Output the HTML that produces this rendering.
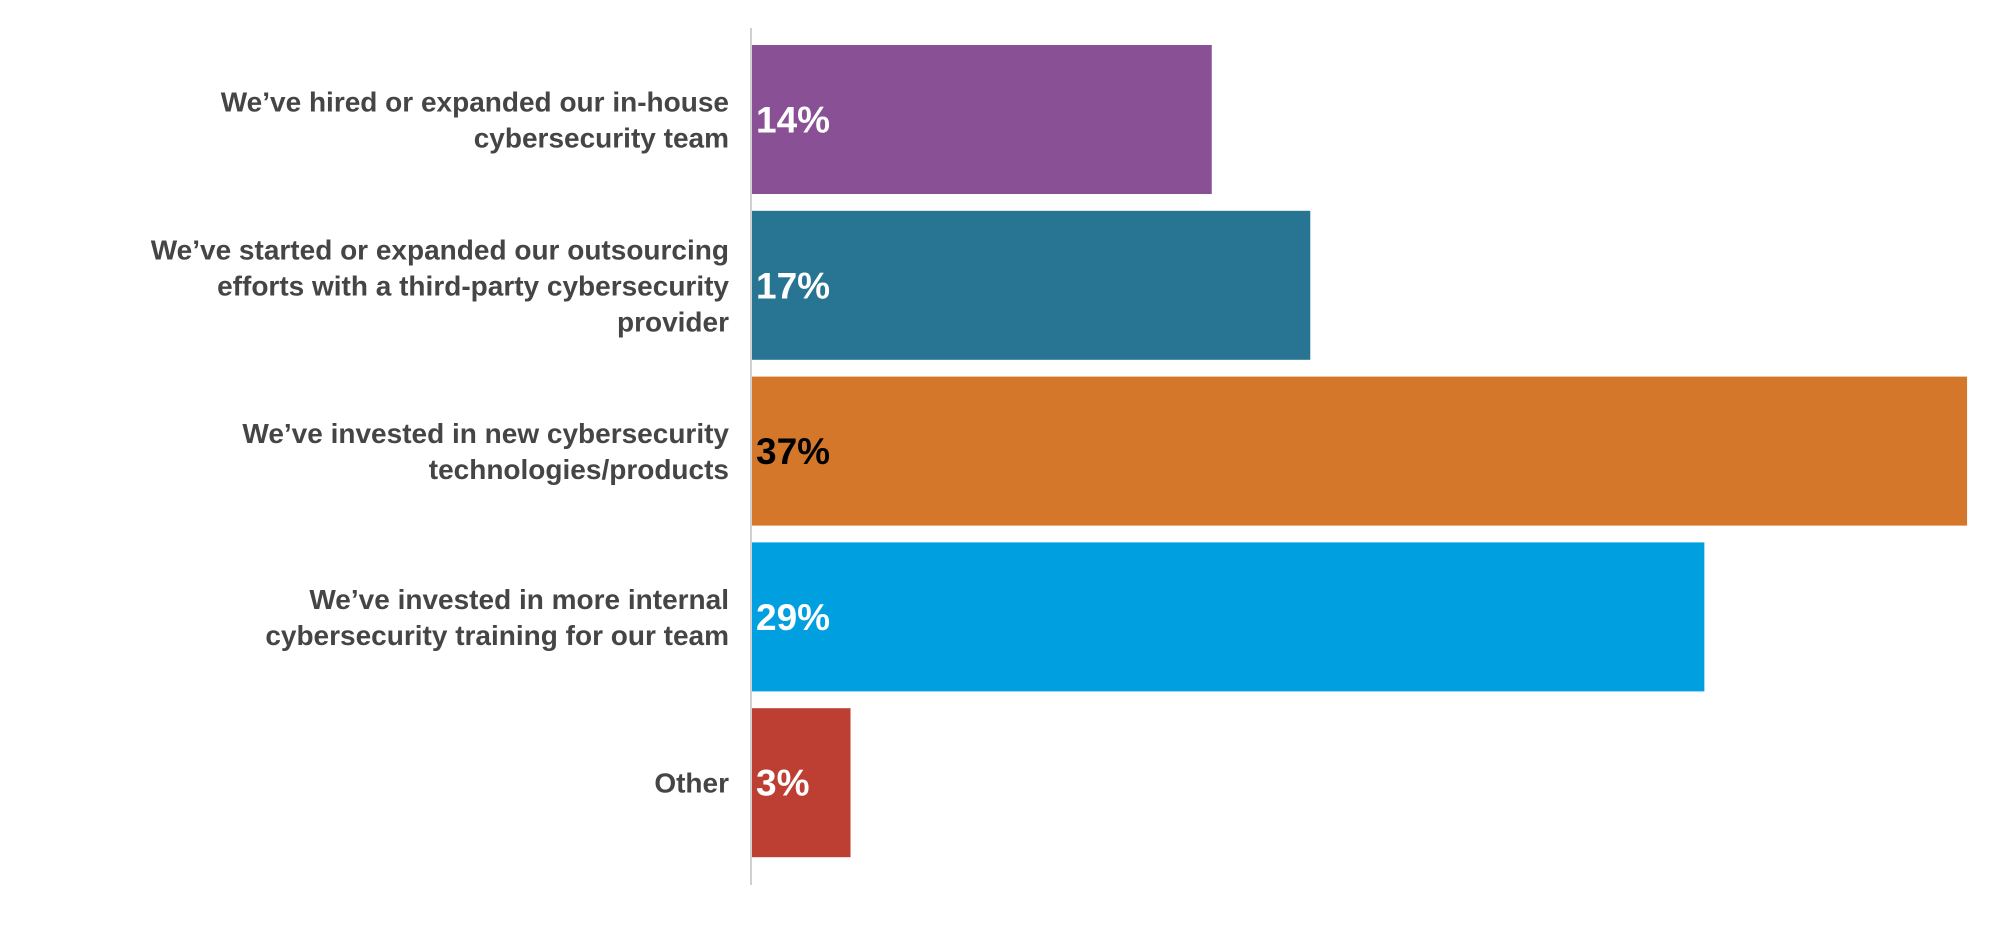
<!DOCTYPE html>
<html><head><meta charset="utf-8">
<style>
body{margin:0;background:#fff;width:2016px;height:932px;overflow:hidden;font-family:"Liberation Sans",sans-serif}
svg{display:block}
</style></head><body>
<svg id="chart" width="2016" height="932" viewBox="0 0 2016 932"></svg>
<script>
const categories = [
  ["We’ve hired or expanded our in-house","cybersecurity team"],
  ["We’ve started or expanded our outsourcing","efforts with a third-party cybersecurity","provider"],
  ["We’ve invested in new cybersecurity","technologies/products"],
  ["We’ve invested in more internal","cybersecurity training for our team"],
  ["Other"]
];
const values = [14, 17, 37, 29, 3];
const valueLabels = ["14%", "17%", "37%", "29%", "3%"];
const colors = ["#8a5096", "#287593", "#d4772a", "#009fdf", "#bd3e32"];
const labelColors = ["#fff", "#fff", "#000", "#fff", "#fff"];

const svg = document.getElementById('chart');
const NS = 'http://www.w3.org/2000/svg';
const x0 = 752, pxPerPct = 32.84;
const top0 = 45, pitch = 165.8, barH = 149;
const xScale = v => v * pxPerPct;
const yScale = i => top0 + i * pitch;

const axis = document.createElementNS(NS, 'line');


axis.setAttribute('x1', 751); axis.setAttribute('x2', 751);
axis.setAttribute('y1', 28); axis.setAttribute('y2', 885);
axis.setAttribute('stroke', '#d0d0d0'); axis.setAttribute('stroke-width', 2);
svg.appendChild(axis);

values.forEach((v, i) => {
  const y = yScale(i);
  const r = document.createElementNS(NS, 'rect');
  
  
  r.setAttribute('x', x0); r.setAttribute('y', y);
  r.setAttribute('width', xScale(v)); r.setAttribute('height', barH);
  r.setAttribute('fill', colors[i]);
  svg.appendChild(r);

  const t = document.createElementNS(NS, 'text');
  
  
  t.setAttribute('x', x0 + 4); t.setAttribute('y', y + barH / 2 + 13);
  t.setAttribute('font-size', 37); t.setAttribute('font-weight', 'bold');
  t.setAttribute('fill', labelColors[i]);
  t.textContent = valueLabels[i];
  svg.appendChild(t);

  const lines = categories[i];
  const lh = 36;
  const startY = y + barH / 2 - (lines.length - 1) * lh / 2 + 10;
  const g = document.createElementNS(NS, 'text');
  
  
  g.setAttribute('text-anchor', 'end');
  g.setAttribute('font-size', 28); g.setAttribute('font-weight', 'bold');
  g.setAttribute('fill', '#454545');
  lines.forEach((ln, k) => {
    const ts = document.createElementNS(NS, 'tspan');
    ts.setAttribute('x', 729); ts.setAttribute('y', startY + k * lh);
    ts.textContent = ln;
    g.appendChild(ts);
  });
  svg.appendChild(g);
});
</script>
</body></html>
